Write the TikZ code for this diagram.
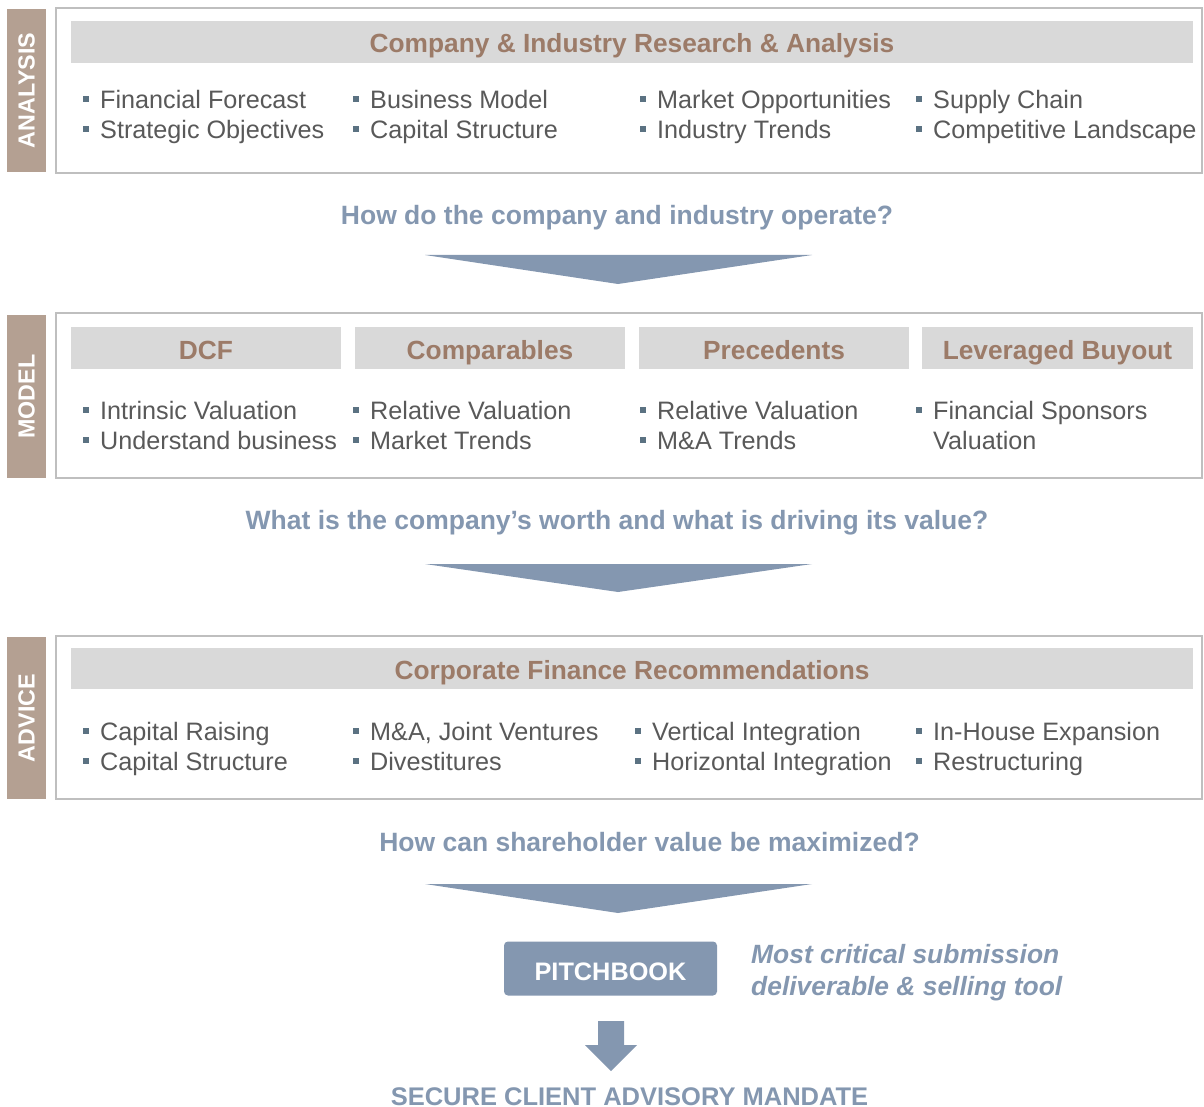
\documentclass[tikz,border=0pt]{standalone}
\usepackage{fontspec}
\setmainfont{Liberation Sans}
\definecolor{tabtan}{HTML}{B4A092}
\definecolor{barGray}{HTML}{D9D9D9}
\definecolor{titleBrown}{HTML}{9C7B68}
\definecolor{qblue}{HTML}{8497B0}
\definecolor{txtgray}{HTML}{595959}
\definecolor{bulcol}{HTML}{5B7282}
\definecolor{frameGray}{HTML}{BFBFBF}
\tikzset{
  sectionframe/.style={draw=frameGray, line width=1.3pt, fill=white},
  sidetab/.style={fill=tabtan},
  tabtext/.style={rotate=90, text=white, font=\fontsize{23.3}{26}\selectfont\bfseries, inner sep=0},
  headbar/.style={fill=barGray},
  headtext/.style={anchor=base, inner sep=0, text=titleBrown, font=\fontsize{26.3}{28}\selectfont\bfseries},
  bultext/.style={anchor=base west, inner sep=0, text=txtgray, font=\fontsize{25.2}{30}\selectfont},
  bulsq/.style={fill=bulcol, minimum size=6pt, inner sep=0, outer sep=0},
  question/.style={anchor=base, inner sep=0, text=qblue, font=\fontsize{26.5}{28}\selectfont\bfseries},
  chevron/.style={fill=qblue},
  pitchbox/.style={fill=qblue, rounded corners=4pt, minimum width=213pt, minimum height=54pt, inner sep=0,
    text height=23pt, text depth=0pt,
    text=white, font=\fontsize{25.3}{28}\selectfont\bfseries},
  note/.style={anchor=base west, inner sep=0, text=qblue, font=\fontsize{26.4}{28}\selectfont\bfseries\itshape},
}
% bullet item: name, x, baseline y, text
\newcommand\bitem[4]{%
  \node[bultext] (#1) at (#2,#3) {#4};
  \node[bulsq] (#1-sq) at ([xshift=-14.5pt,yshift=9.5pt]#1.base west) {};
}
\begin{document}
\begin{tikzpicture}[x=1pt,y=-1pt]
\useasboundingbox (0,0) rectangle (1204,1107);

% ---------------- ANALYSIS ----------------
\draw[sectionframe] (56,8) rectangle (1202,173);
\fill[sidetab] (7,9) rectangle (46,172);
\node[tabtext] (tab-analysis) at (26.5,90.5) {ANALYSIS};
\fill[headbar] (71,21) rectangle (1193,63);
\node[headtext] (h-analysis) at (632,52.5) {Company \& Industry Research \& Analysis};
\bitem{a11}{100}{108.5}{Financial Forecast}
\bitem{a12}{100}{138.5}{Strategic Objectives}
\bitem{a21}{370}{108.5}{Business Model}
\bitem{a22}{370}{138.5}{Capital Structure}
\bitem{a31}{657}{108.5}{Market Opportunities}
\bitem{a32}{657}{138.5}{Industry Trends}
\bitem{a41}{933}{108.5}{Supply Chain}
\bitem{a42}{933}{138.5}{Competitive Landscape}

\node[question] (q1) at (617,225) {How do the company and industry operate?};
\fill[chevron] (425,255) -- (812,255) -- (618,284) -- cycle;

% ---------------- MODEL ----------------
\draw[sectionframe] (56,313) rectangle (1202,478);
\fill[sidetab] (7,315) rectangle (46,478);
\node[tabtext] (tab-model) at (26.5,396.5) {MODEL};
\fill[headbar] (71,327) rectangle (341,369);
\fill[headbar] (355,327) rectangle (625,369);
\fill[headbar] (639,327) rectangle (909,369);
\fill[headbar] (922,327) rectangle (1193,369);
\node[headtext] (h-dcf) at (206,359) {DCF};
\node[headtext] (h-comps) at (490,359) {Comparables};
\node[headtext] (h-prec) at (774,359) {Precedents};
\node[headtext] (h-lbo) at (1057.5,359) {Leveraged Buyout};
\bitem{m11}{100}{419}{Intrinsic Valuation}
\bitem{m12}{100}{449}{Understand business}
\bitem{m21}{370}{419}{Relative Valuation}
\bitem{m22}{370}{449}{Market Trends}
\bitem{m31}{657}{419}{Relative Valuation}
\bitem{m32}{657}{449}{M\&A Trends}
\bitem{m41}{933}{419}{Financial Sponsors}
\node[bultext] (m42) at (933,449) {Valuation};

\node[question] (q2) at (617,529) {What is the company’s worth and what is driving its value?};
\fill[chevron] (425,564) -- (812,564) -- (618,592) -- cycle;

% ---------------- ADVICE ----------------
\draw[sectionframe] (56,636) rectangle (1202,799);
\fill[sidetab] (7,637) rectangle (46,799);
\node[tabtext] (tab-advice) at (26.5,718) {ADVICE};
\fill[headbar] (71,648) rectangle (1193,689);
\node[headtext] (h-advice) at (632,679) {Corporate Finance Recommendations};
\bitem{d11}{100}{740}{Capital Raising}
\bitem{d12}{100}{770}{Capital Structure}
\bitem{d21}{370}{740}{M\&A, Joint Ventures}
\bitem{d22}{370}{770}{Divestitures}
\bitem{d31}{652}{740}{Vertical Integration}
\bitem{d32}{652}{770}{Horizontal Integration}
\bitem{d41}{933}{740}{In-House Expansion}
\bitem{d42}{933}{770}{Restructuring}

\node[question] (q3) at (649.5,851) {How can shareholder value be maximized?};
\fill[chevron] (425,884) -- (812,884) -- (618,913) -- cycle;

% ---------------- PITCHBOOK ----------------
\node[pitchbox] (pitch) at (610.5,968.5) {PITCHBOOK};
\node[note] (note1) at (751,963) {Most critical submission};
\node[note] (note2) at (751,995) {deliverable \& selling tool};

\node[question, font=\fontsize{25.5}{28}\selectfont\bfseries] (mandate) at (629.5,1105) {SECURE CLIENT ADVISORY MANDATE};
\fill[chevron] (598,1021) -- (624,1021) -- (624,1045) -- (637,1045) -- (611,1071)
  -- (585,1045) -- (598,1045) -- cycle;
\end{tikzpicture}
\end{document}
